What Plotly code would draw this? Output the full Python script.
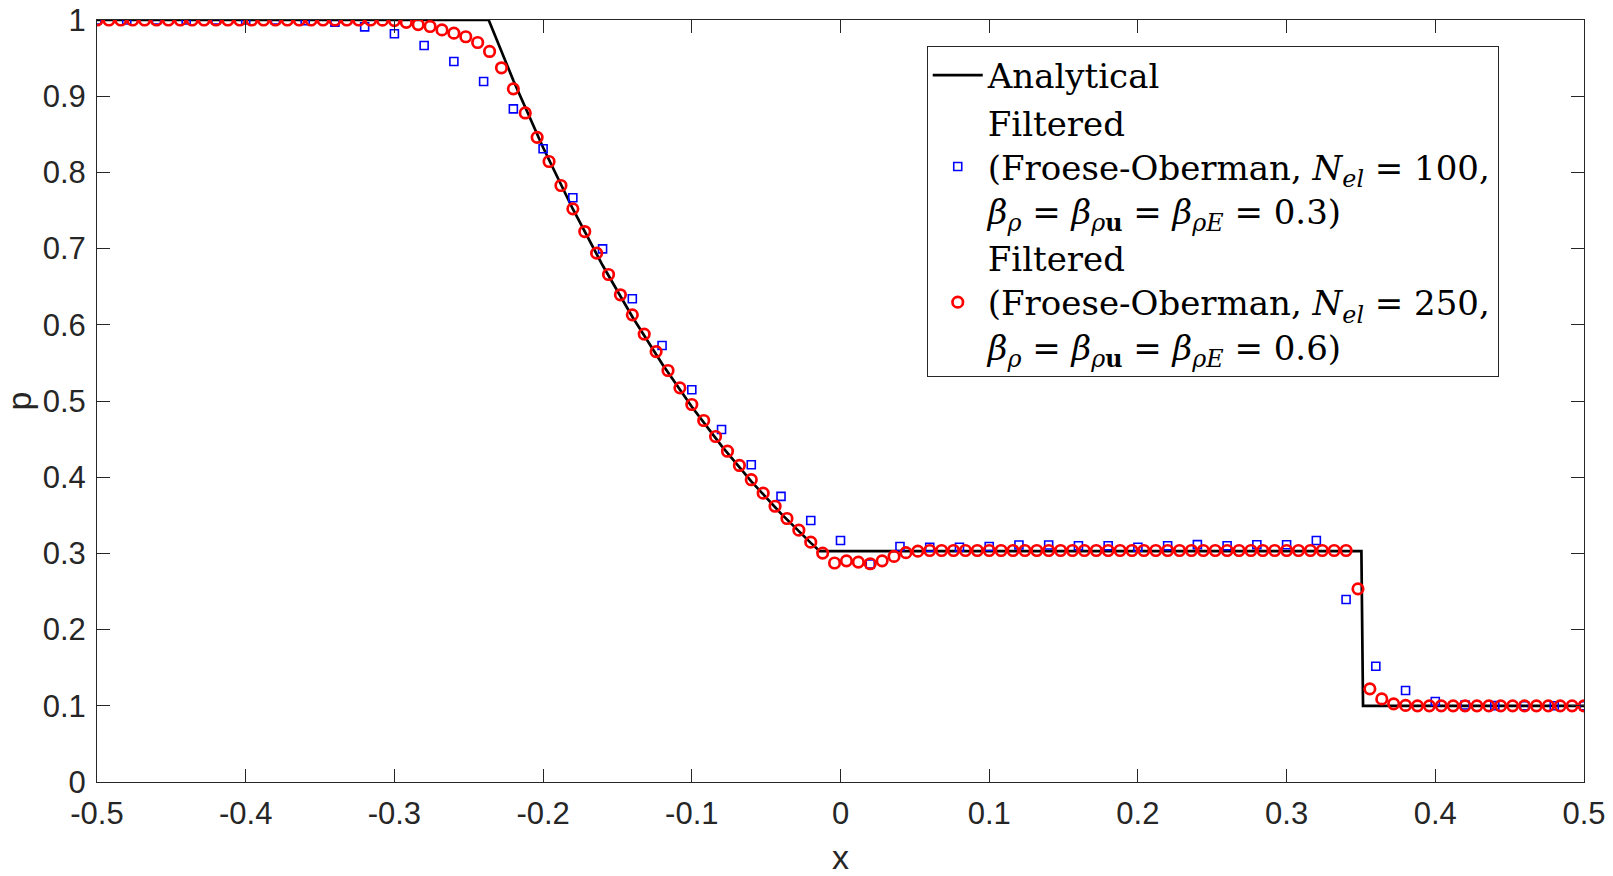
import numpy as np
import plotly.graph_objects as go

# Analytical Sod shock-tube pressure (t = 0.2)
x_exact = [-0.5, -0.2366, -0.22, -0.2, -0.18, -0.16, -0.14, -0.12, -0.1,
           -0.08, -0.06, -0.04, -0.02, -0.014, 0.3503, 0.3514, 0.5]
p_exact = [1.0, 1.0, 0.9207, 0.8327, 0.7520, 0.6781, 0.6105, 0.5488, 0.4925,
           0.4411, 0.3946, 0.3522, 0.3138, 0.3031, 0.3031, 0.1, 0.1]

# Filtered, N_el = 100 (blue squares), x = -0.5 : 0.02 : 0.5
x_100 = np.linspace(-0.5, 0.5, 51)
p_100 = [1.0, 1.0, 1.0, 1.0, 1.0, 1.0, 1.0, 0.999,
         0.997, 0.991, 0.982, 0.9665, 0.9455, 0.9193, 0.8834, 0.831,
         0.7667, 0.6997, 0.6341, 0.5728, 0.5147, 0.4626, 0.4163, 0.3749,
         0.3432, 0.317, 0.286, 0.309, 0.308, 0.308, 0.309, 0.311,
         0.311, 0.310, 0.310, 0.308, 0.310, 0.3115, 0.310, 0.3113,
         0.3113, 0.317, 0.2395, 0.152, 0.1201, 0.1056, 0.101, 0.1002,
         0.1, 0.1, 0.1]

# Filtered, N_el = 250 (red circles), x = -0.5 : 0.008 : 0.5
x_250 = np.linspace(-0.5, 0.5, 126)
p_250 = [1.0, 1.0, 1.0, 1.0, 1.0, 1.0, 1.0, 1.0, 1.0, 1.0,
         1.0, 1.0, 1.0, 1.0, 1.0, 1.0, 1.0, 1.0, 1.0, 1.0,
         1.0, 1.0, 1.0, 1.0, 0.9998, 0.9993,
         0.997, 0.994, 0.9915, 0.987, 0.9827, 0.978, 0.9705, 0.9587,
         0.9373, 0.9097, 0.878, 0.846, 0.8143, 0.7828, 0.7522, 0.7224,
         0.694, 0.666, 0.6394, 0.6131, 0.5878, 0.5648, 0.540, 0.5173,
         0.4954, 0.4744, 0.4534, 0.4341, 0.4154, 0.3967, 0.379, 0.3619,
         0.3458, 0.3305, 0.3147, 0.3004, 0.2874, 0.2902, 0.2886, 0.2864,
         0.2902, 0.296, 0.301, 0.3029,
         0.3038, 0.3038, 0.3038, 0.3038, 0.3038, 0.3038, 0.3038, 0.3038,
         0.3038, 0.3038, 0.3038, 0.3038, 0.3038, 0.3038, 0.3038, 0.3038,
         0.3038, 0.3038, 0.3038, 0.3038, 0.3038, 0.3038, 0.3038, 0.3038,
         0.3038, 0.3038, 0.3038, 0.3038, 0.3038, 0.3038, 0.3038, 0.3038,
         0.3038, 0.3038, 0.3038, 0.3038,
         0.2535, 0.1223, 0.109, 0.1026, 0.1005,
         0.1, 0.1, 0.1, 0.1, 0.1, 0.1, 0.1, 0.1,
         0.1, 0.1, 0.1, 0.1, 0.1, 0.1, 0.1]

name_exact = "Analytical"
name_100 = ("Filtered<br>(Froese-Oberman, <i>N</i><sub><i>el</i></sub> = 100,<br>"
            "<i>β</i><sub><i>ρ</i></sub> = <i>β</i><sub><i>ρ</i><b>u</b></sub> = "
            "<i>β</i><sub><i>ρE</i></sub> = 0.3)")
name_250 = ("Filtered<br>(Froese-Oberman, <i>N</i><sub><i>el</i></sub> = 250,<br>"
            "<i>β</i><sub><i>ρ</i></sub> = <i>β</i><sub><i>ρ</i><b>u</b></sub> = "
            "<i>β</i><sub><i>ρE</i></sub> = 0.6)")

fig = go.Figure()
fig.add_trace(go.Scatter(x=x_exact, y=p_exact, mode="lines", name=name_exact,
                         line=dict(color="black", width=2.7)))
fig.add_trace(go.Scatter(x=x_100, y=p_100, mode="markers", name=name_100,
                         marker=dict(symbol="square-open", size=8, color="#0000ff",
                                     line=dict(width=1.6, color="#0000ff"))))
fig.add_trace(go.Scatter(x=x_250, y=p_250, mode="markers", name=name_250,
                         marker=dict(symbol="circle-open", size=10.5, color="#ff0000",
                                     line=dict(width=2.7, color="#ff0000"))))

axis_style = dict(
    showline=True, linecolor="#262626", linewidth=1, mirror="ticks",
    ticks="inside", ticklen=13, tickwidth=1, tickcolor="#262626",
    showgrid=False, zeroline=False,
    tickfont=dict(family="Liberation Sans, Arial", size=31, color="#262626"),
)
title_font = dict(family="Liberation Sans, Arial", size=34, color="#262626")

fig.update_layout(
    width=1613, height=876,
    margin=dict(l=97, r=29, t=20, b=94, autoexpand=False),
    plot_bgcolor="white", paper_bgcolor="white",
    xaxis=dict(range=[-0.5, 0.5], tickvals=[-0.5, -0.4, -0.3, -0.2, -0.1, 0, 0.1, 0.2, 0.3, 0.4, 0.5],
               ticktext=["-0.5", "-0.4", "-0.3", "-0.2", "-0.1", "0", "0.1", "0.2", "0.3", "0.4", "0.5"],
               ticklabelstandoff=4, **axis_style),
    yaxis=dict(range=[0, 1], tickvals=[0, 0.1, 0.2, 0.3, 0.4, 0.5, 0.6, 0.7, 0.8, 0.9, 1],
               ticktext=["0", "0.1", "0.2", "0.3", "0.4", "0.5", "0.6", "0.7", "0.8", "0.9", "1"],
               ticklabelstandoff=4,
               title=dict(text="p", standoff=12, font=title_font),
               **axis_style),
    legend=dict(x=0.558, y=0.9665, xanchor="left", yanchor="top",
                bgcolor="white", bordercolor="#262626", borderwidth=1,
                font=dict(family="DejaVu Serif", size=34, color="black"),
                itemwidth=50),
    showlegend=True,
)

# x-axis title placed as an annotation so it can sit lower than the axis title allows
fig.add_annotation(text="x", x=0.5, y=-0.098, xref="paper", yref="paper",
                   xanchor="center", yanchor="middle", showarrow=False, font=title_font)

fig.write_html("out.html", config={"displayModeBar": False},
               post_script="document.body.style.margin='0px';")
